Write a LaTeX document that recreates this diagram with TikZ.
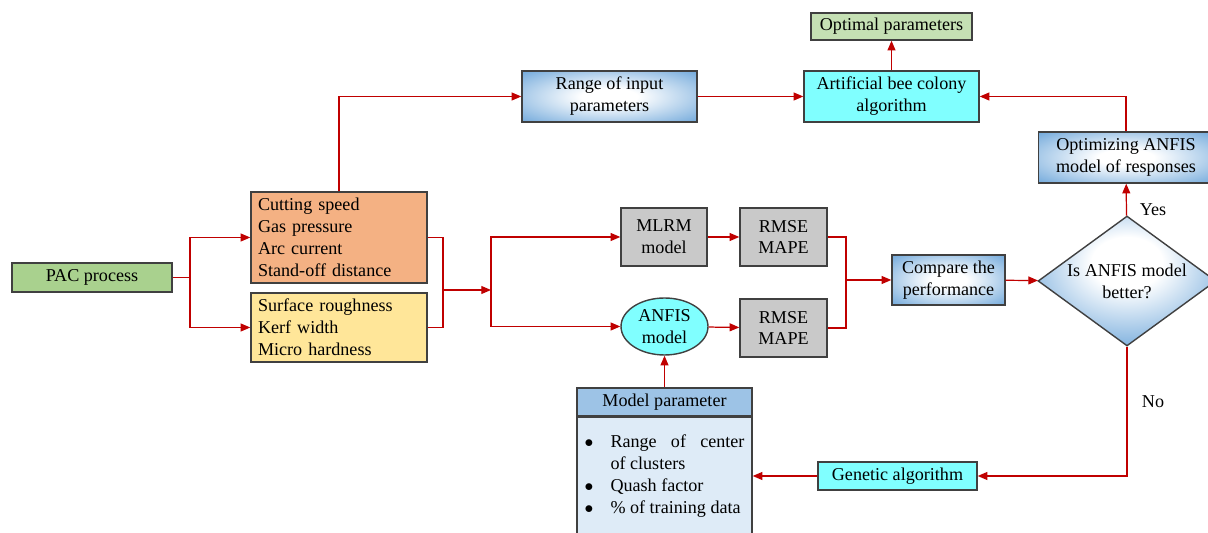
\documentclass[tikz,border=0pt]{standalone}
\usepackage{fontspec}
\setmainfont{Liberation Serif}
\usetikzlibrary{arrows.meta,shapes.geometric,positioning,calc}
\definecolor{pacgreen}{HTML}{A9D18E}
\definecolor{inorange}{HTML}{F4B183}
\definecolor{outyellow}{HTML}{FFE699}
\definecolor{optgreen}{HTML}{C5E0B4}
\definecolor{algcyan}{HTML}{80FFFF}
\definecolor{modgray}{HTML}{C9C9C9}
\definecolor{gradblue}{HTML}{5B9BD5}
\definecolor{headblue}{HTML}{9DC3E6}
\definecolor{bodyblue}{HTML}{DEEBF7}
\definecolor{linkred}{HTML}{C00000}
\definecolor{edgegray}{HTML}{404040}
\pgfdeclareradialshading{softblue}{\pgfpoint{0bp}{0bp}}{color(0bp)=(white); color(8bp)=(white); color(40bp)=(gradblue); color(70bp)=(gradblue)}
\pgfdeclareradialshading{softdiamond}{\pgfpoint{0bp}{8bp}}{color(0bp)=(white); color(10bp)=(white); color(30bp)=(gradblue!75); color(45bp)=(gradblue); color(80bp)=(gradblue)}
\newcommand{\pitem}[1]{\noindent\hangindent=0.52cm\hangafter=1\makebox[0.52cm][l]{$\bullet$}#1\par}

\begin{document}
\begin{tikzpicture}[
  x=0.02cm, y=-0.02cm,
  box/.style={draw=edgegray, line width=0.8pt, inner sep=1pt, align=center, font=\fontsize{10.3}{12.5}\selectfont},
  listbox/.style={box, align=left, text width=3.24cm, inner xsep=0.14cm, inner ysep=0pt},
  gradbox/.style={box, shading=softblue},
  lbl/.style={font=\fontsize{10.3}{12.5}\selectfont},
  link/.style={draw=linkred, line width=0.7pt},
  arr/.style={link, -{Triangle[length=5.5pt,width=4.5pt]}}
]
  \useasboundingbox (0,0) rectangle (1208,533);
  \clip (0,0) rectangle (1208,533);

  \node[box, fill=pacgreen, minimum width=3.2cm, minimum height=0.58cm] (pac) at (92,277.5) {PAC process};
  \node[listbox, fill=inorange, minimum height=1.82cm] (inputs) at (339,237.5) {Cutting speed\\Gas pressure\\Arc current\\Stand-off distance};
  \node[listbox, fill=outyellow, minimum height=1.38cm] (outputs) at (339,327.5) {Surface roughness\\Kerf width\\Micro hardness};
  \node[gradbox, minimum width=3.5cm, minimum height=1.02cm] (range) at (609.5,96.5) {Range of input\\parameters};
  \node[box, fill=optgreen, minimum width=3.22cm, minimum height=0.54cm] (optimal) at (891.5,26.5) {Optimal parameters};
  \node[box, fill=algcyan, minimum width=3.5cm, minimum height=1.02cm] (abc) at (891.5,96.5) {Artificial bee colony\\algorithm};
  \node[gradbox, minimum width=3.5cm, minimum height=1.02cm] (optimize) at (1126,157.5) {Optimizing ANFIS\\model of responses};
  \node[box, fill=modgray, minimum width=1.72cm, minimum height=1.16cm] (mlrm) at (664,237) {MLRM\\model};
  \node[box, fill=modgray, minimum width=1.74cm, minimum height=1.16cm] (err1) at (783.5,237) {RMSE\\MAPE};
  \node[box, ellipse, fill=algcyan, inner sep=0pt, minimum width=1.74cm, minimum height=1.14cm] (anfis) at (664.5,326.5) {ANFIS\\model};
  \node[box, fill=modgray, minimum width=1.74cm, minimum height=1.16cm] (err2) at (783.5,328) {RMSE\\MAPE};
  \node[gradbox, minimum width=2.26cm, minimum height=1cm] (compare) at (948.5,280) {Compare the\\performance};
  \node[box, shading=softdiamond, diamond, aspect=1.37, inner sep=0pt, minimum width=3.56cm, minimum height=2.6cm] (decide) at (1127,281) {Is ANFIS model\\better?};
  \node[box, fill=algcyan, minimum width=3.18cm, minimum height=0.56cm] (genetic) at (897.5,476) {Genetic algorithm};
  \node[box, fill=headblue, minimum width=3.5cm, minimum height=0.56cm] (mphead) at (664.5,402) {Model parameter};
  \node[box, fill=bodyblue, anchor=north, align=justify, text width=3.2cm, inner xsep=0.15cm, inner ysep=0.35cm] (mpbody) at (mphead.south)
    {\pitem{Range of center\linebreak of clusters}\pitem{Quash factor}\pitem{\% of training data}};
  \node[lbl] (yes) at (1153,210) {Yes};
  \node[lbl] (no) at (1153,402) {No};

  \coordinate (split) at (190,277.5);
  \coordinate (join) at (443,290);
  \coordinate (fork) at (491,290);
  \coordinate (merge) at (846,280);

  \draw[link] (pac) -- (split);
  \draw[arr] (split) |- (inputs);
  \draw[arr] (split) |- (outputs);
  \draw[link] (inputs.east) -| (join) |- (outputs.east);
  \draw[arr] (join) -- (fork);
  \draw[arr] (fork) |- (mlrm);
  \draw[arr] (fork) |- (anfis);
  \draw[arr] (inputs.north) |- (range);
  \draw[arr] (range) -- (abc);
  \draw[arr] (abc) -- (optimal);
  \draw[arr] (mlrm) -- (err1);
  \draw[arr] (anfis) -- (err2);
  \draw[link] (err1.east) -| (merge) |- (err2.east);
  \draw[arr] (merge) -- (compare);
  \draw[arr] (compare) -- (decide);
  \draw[arr] (decide) -- (optimize);
  \draw[arr] (optimize) |- (abc);
  \draw[arr] (decide) |- (genetic);
  \draw[arr] (genetic) -- (genetic -| mpbody.east);
  \draw[arr] (mphead) -- (anfis);
\end{tikzpicture}
\end{document}
